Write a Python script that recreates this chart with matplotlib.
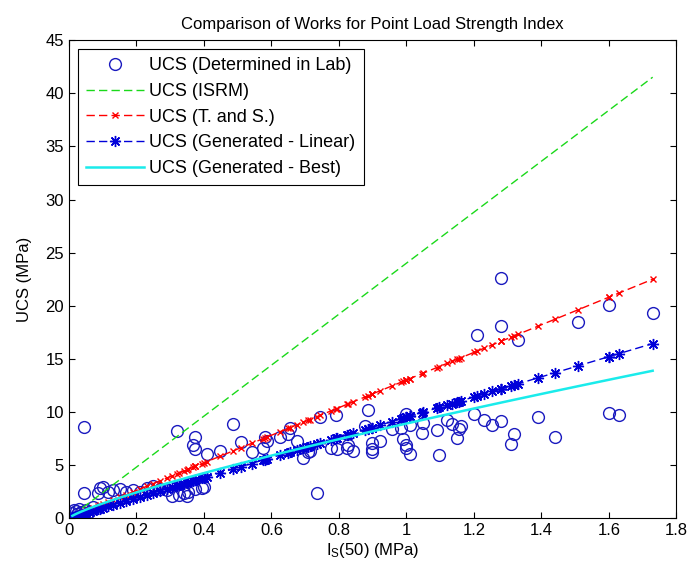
import numpy as np
import matplotlib
matplotlib.use('Agg')
import matplotlib.pyplot as plt

plt.rcParams['font.family'] = ['Liberation Sans', 'DejaVu Sans']
plt.rcParams['mathtext.default'] = 'regular'

# Lab data: point load index Is(50) (MPa) and UCS (MPa)
isLab = [0.01, 0.015, 0.02, 0.025, 0.03, 0.035, 0.04, 0.045, 0.045, 0.05,
         0.06, 0.07, 0.086, 0.092, 0.10, 0.117, 0.13, 0.15, 0.17, 0.19,
         0.21, 0.23, 0.25, 0.27, 0.29, 0.305, 0.32, 0.325, 0.34, 0.35,
         0.353, 0.369, 0.374, 0.374, 0.374, 0.393, 0.40, 0.408, 0.447, 0.485,
         0.509, 0.541, 0.574, 0.58, 0.586, 0.625, 0.65, 0.655, 0.675, 0.694,
         0.709, 0.714, 0.734, 0.744, 0.778, 0.79, 0.793, 0.823, 0.828, 0.842,
         0.877, 0.887, 0.897, 0.897, 0.897, 0.922, 0.956, 0.985, 0.99, 0.998,
         1.0, 1.0, 1.01, 1.01, 1.045, 1.05, 1.09, 1.097, 1.12, 1.135,
         1.15, 1.155, 1.163, 1.20, 1.21, 1.23, 1.255, 1.28, 1.28, 1.28,
         1.31, 1.32, 1.33, 1.39, 1.44, 1.51, 1.60, 1.60, 1.63, 1.73]
ucsLab = [0.5, 0.8, 0.7, 0.4, 0.9, 0.6, 0.3, 2.4, 8.6, 0.8,
          0.6, 1.0, 2.4, 2.8, 2.9, 2.5, 2.6, 2.7, 2.5, 2.6,
          2.5, 2.8, 3.0, 2.7, 2.6, 2.1, 8.2, 2.2, 2.4, 2.1,
          2.5, 6.9, 7.6, 6.5, 2.7, 2.8, 2.9, 6.0, 6.3, 8.9,
          7.2, 6.2, 6.6, 7.6, 7.3, 7.6, 7.9, 8.5, 7.3, 5.7,
          6.2, 6.3, 2.4, 9.5, 6.6, 9.7, 6.5, 6.6, 6.9, 6.3,
          8.7, 10.2, 7.1, 6.5, 6.2, 7.3, 8.4, 8.5, 7.4, 9.8,
          6.9, 6.6, 6.0, 8.8, 8.0, 9.0, 8.3, 5.9, 9.2, 8.9,
          7.5, 8.4, 8.7, 9.8, 17.2, 9.2, 8.8, 9.1, 18.1, 22.6,
          7.0, 7.9, 16.8, 9.5, 7.6, 18.5, 20.1, 9.9, 9.7, 19.3]

# Correlation coefficients
kISRM = 24.0
kTS = 13.0
kLinear = 9.5
bestA = 8.9
bestB = 0.81

x = np.sort(np.array(isLab))
ucsISRM = kISRM * x
ucsTS = kTS * x
ucsLinear = kLinear * x
ucsBest = bestA * x ** bestB

fig = plt.figure(figsize=(6.87, 5.75), dpi=100)
ax = fig.add_axes([0.1004, 0.099, 0.884, 0.831])

ax.plot(isLab, ucsLab, 'o', mfc='none', mec=(0.1, 0.1, 0.75), mew=1.0, ms=8.5,
        label='UCS (Determined in Lab)')
ax.plot(x, ucsISRM, '--', color=(0.1, 0.85, 0.1), lw=1.0, dashes=(6, 3),
        label='UCS (ISRM)')
ax.plot(x, ucsTS, '--', color='red', lw=1.0, marker='x', ms=4, mew=1.0,
        dashes=(6, 3), label='UCS (T. and S.)')
ax.plot(x, ucsLinear, '--', color=(0, 0, 0.85), lw=1.0, marker=(8, 2, 0), ms=8,
        mew=1.0, dashes=(6, 3), label='UCS (Generated - Linear)')
ax.plot(x, ucsBest, '-', color=(0.1, 0.92, 0.92), lw=1.8,
        label='UCS (Generated - Best)')

ax.set_xlim(0, 1.8)
ax.set_ylim(0, 45)
ax.set_xticks(np.arange(0, 1.81, 0.2))
ax.set_xticklabels(['0', '0.2', '0.4', '0.6', '0.8', '1', '1.2', '1.4', '1.6', '1.8'])
ax.set_yticks(np.arange(0, 46, 5))
ax.tick_params(direction='in', length=4, top=True, right=True, labelsize=12)
for s in ax.spines.values():
    s.set_linewidth(0.8)

ax.set_title('Comparison of Works for Point Load Strength Index', fontsize=12, pad=8)
ax.set_xlabel('I$_S$(50) (MPa)', fontsize=12, labelpad=2)
ax.set_ylabel('UCS (MPa)', fontsize=12, labelpad=10)

leg = ax.legend(loc='upper left', fontsize=13, fancybox=False, edgecolor='black',
                framealpha=1, handlelength=3.2, borderaxespad=0.5,
                labelspacing=0.48, handletextpad=0.3, borderpad=0.45)
leg.get_frame().set_linewidth(0.8)

fig.savefig('out.png', dpi=100)
